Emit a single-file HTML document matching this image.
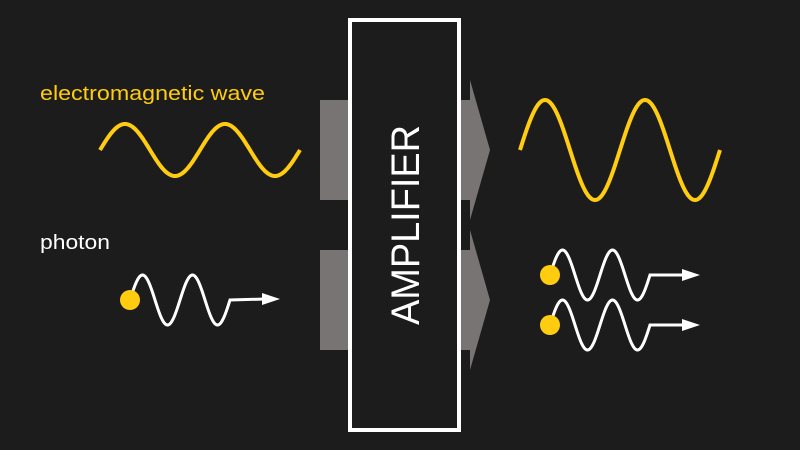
<!DOCTYPE html>
<html><head><meta charset="utf-8"><style>
html,body{margin:0;padding:0;background:#1c1c1c;}
svg{display:block;}
</style></head><body>
<svg width="800" height="450" viewBox="0 0 800 450" xmlns="http://www.w3.org/2000/svg">
<rect width="800" height="450" fill="#1c1c1c"/>
<g fill="#797474">
<rect x="320" y="100" width="30" height="100"/>
<rect x="320" y="250" width="30" height="100"/>
<polygon points="460,100 470,100 470,80 490,150 470,220 470,200 460,200"/>
<polygon points="460,250 470,250 470,230 490,300 470,370 470,350 460,350"/>
</g>
<rect x="350" y="20" width="109" height="410" fill="#1c1c1c" stroke="#fff" stroke-width="4"/>
<text x="0" y="0" transform="translate(419,225) rotate(-90)" text-anchor="middle" fill="#fff" font-family="Liberation Sans, sans-serif" font-size="40" textLength="200" lengthAdjust="spacingAndGlyphs">AMPLIFIER</text>
<text x="40" y="100" fill="#ffcc10" font-family="Liberation Sans, sans-serif" font-size="20" textLength="225" lengthAdjust="spacingAndGlyphs">electromagnetic wave</text>
<text x="40" y="249" fill="#fff" font-family="Liberation Sans, sans-serif" font-size="20" textLength="70" lengthAdjust="spacingAndGlyphs">photon</text>
<path id="w1" fill="none" stroke="#ffcc10" stroke-width="4" d=""/>
<path id="w2" fill="none" stroke="#ffcc10" stroke-width="4" d=""/>
<path id="p1" fill="none" stroke="#fff" stroke-width="3" d=""/>
<path id="p2" fill="none" stroke="#fff" stroke-width="3" d=""/>
<path id="p3" fill="none" stroke="#fff" stroke-width="3" d=""/>
<circle cx="130" cy="300" r="10" fill="#ffcc10"/>
<circle cx="550" cy="275" r="10" fill="#ffcc10"/>
<circle cx="550" cy="325" r="10" fill="#ffcc10"/>
<g fill="#fff">
<polygon points="262,293 280,299 262,305"/>
<polygon points="682,269 700,275 682,281"/>
<polygon points="682,319 700,325 682,331"/>
</g>
</svg>
<script>
function wave(x0,x1,cy,amp,per,ox){let d='';for(let x=x0;x<=x1;x+=1){const y=cy-amp*Math.sin(2*Math.PI*(x-ox)/per);d+=(d?'L':'M')+x+','+y.toFixed(2);}return d;}
document.getElementById('w1').setAttribute('d',wave(100,300,150,26,100,100));
document.getElementById('w2').setAttribute('d',wave(520,720,150,50,100,520));
document.getElementById('p1').setAttribute('d',wave(133,230,300,25,50,130)+'L265,299');
document.getElementById('p2').setAttribute('d',wave(553,650,275,25,50,550)+'L685,275');
document.getElementById('p3').setAttribute('d',wave(553,650,325,25,50,550)+'L685,325');
</script>
</body></html>
